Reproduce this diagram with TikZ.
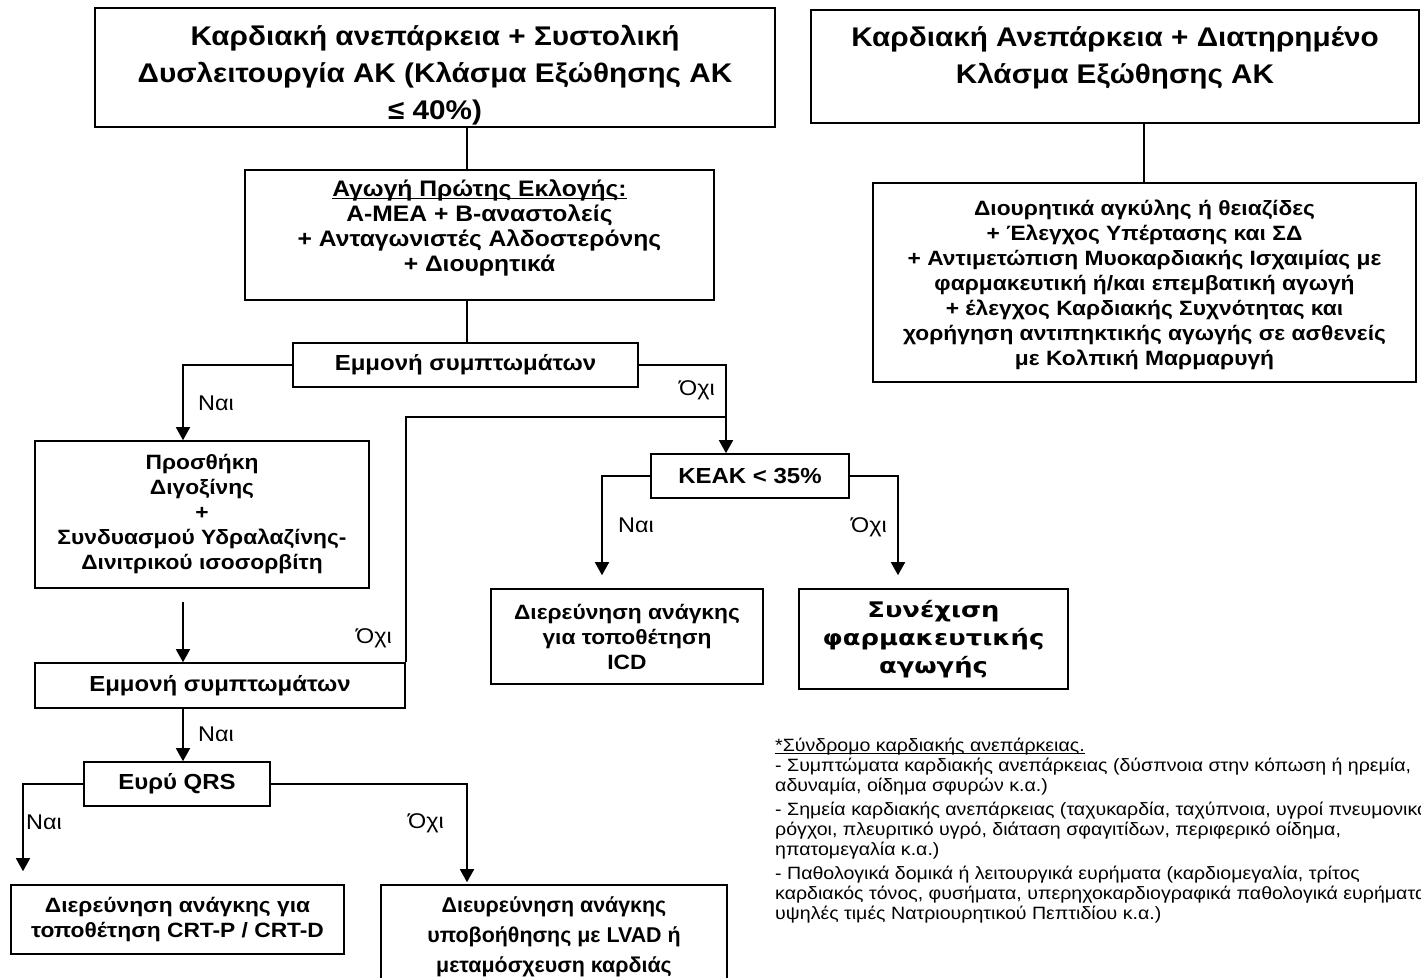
\documentclass[tikz,border=0pt]{standalone}
\usepackage{fontspec}
\setmainfont{Liberation Sans}[FakeStretch=1.1]
\newfontfamily\plainsans{Liberation Sans}
\newfontfamily\dejavu{DejaVu Sans}[FakeStretch=1.2]
\newcommand\myul[2]{\setbox0=\hbox{#2}\rlap{\rule[-2.5pt]{\wd0}{#1}}\box0}
\usetikzlibrary{arrows.meta,calc}
\begin{document}
\begin{tikzpicture}[x=1pt,y=-1pt,
 box/.style={draw, line width=1.6pt, align=center, inner sep=0pt, font=\bfseries\fontsize{20.7}{25}\selectfont},
 txt/.style={align=center, inner sep=0pt},
 big/.style={font=\bfseries\fontsize{27}{37}\selectfont},
 mid/.style={font=\bfseries\fontsize{21.8}{25}\selectfont},
 lbl/.style={font=\fontsize{21.3}{22}\selectfont, inner sep=0pt},
 fn/.style={font=\fontsize{17.8}{20}\selectfont, inner sep=0pt, anchor=base west},
 conn/.style={line width=1.6pt},
 arr/.style={conn, -{Triangle[length=13pt,width=14pt]}}]
\clip (0,0) rectangle (1421,977);
\fill[white] (0,0) rectangle (1421,977);

% boxes
\node[box, minimum width=680pt, minimum height=119pt] (b1) at (435,67.5) {};
\node[txt, big] (b1t) at (435,75)
 {Καρδιακή ανεπάρκεια + Συστολική\\Δυσλειτουργία ΑΚ (Κλάσμα Εξώθησης ΑΚ\\≤ 40\%)};
\node[box, minimum width=608pt, minimum height=113pt] (b2) at (1115,66.5) {};
\node[txt, big] (b2t) at (1115,58)
 {Καρδιακή Ανεπάρκεια + Διατηρημένο\\Κλάσμα Εξώθησης ΑΚ};
\node[box, minimum width=543pt, minimum height=199pt] (b3) at (1144.5,282.5) {};
\node[txt, font=\bfseries\fontsize{20.7}{25}\selectfont] (b3t) at (1144.5,285)
 {Διουρητικά αγκύλης ή θειαζίδες\\+ Έλεγχος Υπέρτασης και ΣΔ\\+ Αντιμετώπιση Μυοκαρδιακής Ισχαιμίας με\\φαρμακευτική ή/και επεμβατική αγωγή\\+ έλεγχος Καρδιακής Συχνότητας και\\χορήγηση αντιπηκτικής αγωγής σε ασθενείς\\με Κολπική Μαρμαρυγή};
\node[box, minimum width=469pt, minimum height=130pt] (agogi) at (479.5,235) {};
\node[txt, font=\bfseries\fontsize{22.4}{25}\selectfont] (agogit) at (479.5,228)
 {\myul{1.3pt}{Αγωγή Πρώτης Εκλογής:}\\Α-ΜΕΑ + Β-αναστολείς\\+ Ανταγωνιστές Αλδοστερόνης\\+ Διουρητικά};
\node[box, mid, minimum width=345pt, minimum height=44pt] (emm1) at (465.5,365) {Εμμονή συμπτωμάτων};
\node[box, minimum width=334pt, minimum height=147pt] (prosth) at (202,514.5)
 {Προσθήκη\\Διγοξίνης\\+\\Συνδυασμού Υδραλαζίνης-\\Δινιτρικού ισοσορβίτη};
\node[box, mid, minimum width=370pt, minimum height=45pt] (emm2) at (220,685.5) {Εμμονή συμπτωμάτων};
\node[box, mid, minimum width=198pt, minimum height=44pt] (keak) at (750,476) {ΚΕΑΚ < 35\%};
\node[box, minimum width=272pt, minimum height=95pt] (icd) at (627,636.5)
 {Διερεύνηση ανάγκης\\για τοποθέτηση\\ICD};
\node[box, font=\dejavu\bfseries\fontsize{21.5}{28}\selectfont, minimum width=269pt, minimum height=100pt] (syn) at (933.5,639)
 {Συνέχιση\\φαρμακευτικής\\αγωγής};
\node[box, mid, minimum width=186pt, minimum height=44pt] (qrs) at (177,784) {Ευρύ QRS};
\node[box, minimum width=333pt, minimum height=69pt] (crt) at (177.5,919.5)
 {Διερεύνηση ανάγκης για\\τοποθέτηση CRT-P / CRT-D};
\node[box, font=\plainsans\bfseries\fontsize{21.4}{30}\selectfont, minimum width=346pt, minimum height=104pt] (lvad) at (554,937)
 {Διευρεύνηση ανάγκης\\υποβοήθησης με LVAD ή\\μεταμόσχευση καρδιάς};

% connector helper coordinates
\coordinate (xa) at (467,0);
\coordinate (xl) at (183,0);
\coordinate (xr) at (726,0);
\coordinate (jn) at (726,417);
\coordinate (xk1) at (602,0);
\coordinate (xk2) at (898,0);
\coordinate (xq1) at (23,0);
\coordinate (xq2) at (467,0);
\coordinate (xb) at (1144,0);

\draw[conn] (b1.south -| xa) -- (agogi.north -| xa);
\draw[conn] (agogi.south -| xa) -- (emm1.north -| xa);
\draw[conn] (b2.south -| xb) -- (b3.north -| xb);
\draw[arr] (emm1.west) -| (prosth.north -| xl);
\draw[arr] (emm1.east) -| (keak.north -| xr);
\draw[conn] (emm2.north east) |- (jn);
\draw[arr, shorten <=13pt] (prosth.south -| xl) -- (emm2.north -| xl);
\draw[arr, shorten >=13pt] (keak.west) -| (icd.north -| xk1);
\draw[arr, shorten >=13pt] (keak.east) -| (syn.north -| xk2);
\draw[arr] (emm2.south -| xl) -- (qrs.north -| xl);
\draw[arr, shorten >=13pt] (qrs.west) -| (crt.north -| xq1);
\draw[arr, shorten >=2pt] (qrs.east) -| (lvad.north -| xq2);

% labels
\node[lbl] (l1) at (216,403) {Ναι};
\node[lbl] (l2) at (697,390) {Όχι};
\node[lbl] (l3) at (374,638) {Όχι};
\node[lbl] (l4) at (636,525) {Ναι};
\node[lbl] (l5) at (869,527) {Όχι};
\node[lbl] (l6) at (216,734) {Ναι};
\node[lbl] (l7) at (44,822) {Ναι};
\node[lbl] (l8) at (426,823) {Όχι};

% footnote
\node[fn] (f1) at (775,751) {\myul{0.8pt}{*Σύνδρομο καρδιακής ανεπάρκειας.}};
\node[fn] (f2) at (775,771) {- Συμπτώματα καρδιακής ανεπάρκειας (δύσπνοια στην κόπωση ή ηρεμία,};
\node[fn] (f3) at (775,791) {αδυναμία, οίδημα σφυρών κ.α.)};
\node[fn] (f4) at (775,815) {- Σημεία καρδιακής ανεπάρκειας (ταχυκαρδία, ταχύπνοια, υγροί πνευμονικοί};
\node[fn] (f5) at (775,835) {ρόγχοι, πλευριτικό υγρό, διάταση σφαγιτίδων, περιφερικό οίδημα,};
\node[fn] (f6) at (775,855) {ηπατομεγαλία κ.α.)};
\node[fn] (f7) at (775,879) {- Παθολογικά δομικά ή λειτουργικά ευρήματα (καρδιομεγαλία, τρίτος};
\node[fn] (f8) at (775,899) {καρδιακός τόνος, φυσήματα, υπερηχοκαρδιογραφικά παθολογικά ευρήματα,};
\node[fn] (f9) at (775,919) {υψηλές τιμές Νατριουρητικού Πεπτιδίου κ.α.)};
\end{tikzpicture}
\end{document}
